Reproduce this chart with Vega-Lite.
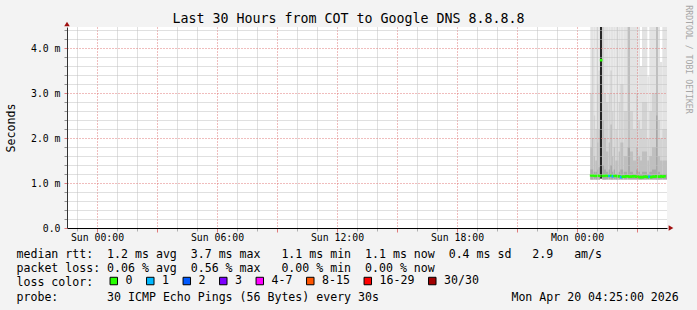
{
  "$schema": "https://vega.github.io/schema/vega-lite/v6.json",
  "width": 600,
  "height": 201,
  "autosize": {"type": "none"},
  "padding": {"left": 67, "top": 27, "right": 30, "bottom": 82},
  "background": "#f3f3f3",
  "config": {
    "font": "DejaVu Sans Mono",
    "view": {"fill": "white", "stroke": null}
  },
  "title": {
    "text": "Last 30 Hours from COT to Google DNS 8.8.8.8",
    "font": "DejaVu Sans Mono",
    "fontSize": 13.3,
    "fontWeight": "normal",
    "color": "#000000",
    "anchor": "middle",
    "frame": "group",
    "dx": -18.5,
    "offset": -21
  },
  "datasets": {
    "smoke": [
      {"t": "2026-04-20T00:40:00Z", "t2": "2026-04-20T00:45:00Z", "min": 1.08, "max": 6, "q1": 3.0, "q2": 1.8, "q3": 1.3},
      {"t": "2026-04-20T00:45:00Z", "t2": "2026-04-20T00:50:00Z", "min": 1.08, "max": 6, "q1": 4.0, "q2": 2.0, "q3": 1.3},
      {"t": "2026-04-20T00:50:00Z", "t2": "2026-04-20T00:55:00Z", "min": 1.08, "max": 6, "q1": 2.5, "q2": 1.6, "q3": 1.25},
      {"t": "2026-04-20T00:55:00Z", "t2": "2026-04-20T01:00:00Z", "min": 1.08, "max": 5.0, "q1": 2.2, "q2": 1.5, "q3": 1.25},
      {"t": "2026-04-20T01:00:00Z", "t2": "2026-04-20T01:05:00Z", "min": 1.08, "max": 6, "q1": 3.2, "q2": 1.9, "q3": 1.3},
      {"t": "2026-04-20T01:05:00Z", "t2": "2026-04-20T01:09:00Z", "min": 1.08, "max": 6, "q1": 3.5, "q2": 2.2, "q3": 1.35},
      {"t": "2026-04-20T01:09:00Z", "t2": "2026-04-20T01:16:00Z", "min": 1.1, "max": 6, "q1": 6, "q2": 6, "q3": 6, "q4": 6},
      {"t": "2026-04-20T01:16:00Z", "t2": "2026-04-20T01:21:00Z", "min": 1.08, "max": 6, "q1": 6, "q2": 2.4, "q3": 1.4},
      {"t": "2026-04-20T01:21:00Z", "t2": "2026-04-20T01:27:00Z", "min": 1.08, "max": 6, "q1": 3.0, "q2": 2.0, "q3": 1.3},
      {"t": "2026-04-20T01:27:00Z", "t2": "2026-04-20T01:35:00Z", "min": 1.08, "max": 6, "q1": 2.8, "q2": 1.7, "q3": 1.25},
      {"t": "2026-04-20T01:35:00Z", "t2": "2026-04-20T01:40:00Z", "min": 1.08, "max": 6, "q1": 3.0, "q2": 1.9, "q3": 1.3},
      {"t": "2026-04-20T01:40:00Z", "t2": "2026-04-20T01:45:00Z", "min": 1.08, "max": 6, "q1": 3.5, "q2": 2.3, "q3": 1.4},
      {"t": "2026-04-20T01:45:00Z", "t2": "2026-04-20T01:50:00Z", "min": 1.08, "max": 6, "q1": 2.6, "q2": 1.6, "q3": 1.25},
      {"t": "2026-04-20T01:50:00Z", "t2": "2026-04-20T01:55:00Z", "min": 1.08, "max": 6, "q1": 3.0, "q2": 1.8, "q3": 1.3},
      {"t": "2026-04-20T01:55:00Z", "t2": "2026-04-20T02:00:00Z", "min": 1.08, "max": 5.5, "q1": 2.2, "q2": 1.5, "q3": 1.2},
      {"t": "2026-04-20T02:00:00Z", "t2": "2026-04-20T02:05:00Z", "min": 1.08, "max": 4.8, "q1": 2.0, "q2": 1.5, "q3": 1.2},
      {"t": "2026-04-20T02:05:00Z", "t2": "2026-04-20T02:10:00Z", "min": 1.08, "max": 6, "q1": 2.8, "q2": 1.7, "q3": 1.25},
      {"t": "2026-04-20T02:10:00Z", "t2": "2026-04-20T02:20:00Z", "min": 1.08, "max": 6, "q1": 3.2, "q2": 1.9, "q3": 1.3},
      {"t": "2026-04-20T02:20:00Z", "t2": "2026-04-20T02:32:00Z", "min": 1.08, "max": 6, "q1": 2.6, "q2": 1.6, "q3": 1.25},
      {"t": "2026-04-20T02:32:00Z", "t2": "2026-04-20T02:39:00Z", "min": 1.08, "max": 6, "q1": 6, "q2": 6, "q3": 1.8},
      {"t": "2026-04-20T02:39:00Z", "t2": "2026-04-20T02:48:00Z", "min": 1.08, "max": 6, "q1": 2.6, "q2": 1.7, "q3": 1.25},
      {"t": "2026-04-20T02:48:00Z", "t2": "2026-04-20T02:57:00Z", "min": 1.08, "max": 6, "q1": 2.2, "q2": 1.5, "q3": 1.2},
      {"t": "2026-04-20T02:57:00Z", "t2": "2026-04-20T03:04:00Z", "min": 1.08, "max": 6, "q1": 3.0, "q2": 1.8, "q3": 1.3},
      {"t": "2026-04-20T03:04:00Z", "t2": "2026-04-20T03:09:00Z", "min": 1.08, "max": 6, "q1": 2.4, "q2": 1.6, "q3": 1.25},
      {"t": "2026-04-20T03:09:00Z", "t2": "2026-04-20T03:15:00Z", "min": 1.08, "max": 3.6, "q1": 2.2, "q2": 1.5, "q3": 1.2},
      {"t": "2026-04-20T03:15:00Z", "t2": "2026-04-20T03:31:00Z", "min": 1.08, "max": 6, "q1": 2.8, "q2": 1.7, "q3": 1.25},
      {"t": "2026-04-20T03:31:00Z", "t2": "2026-04-20T03:37:00Z", "min": 1.08, "max": 3.37, "q1": 2.0, "q2": 1.5, "q3": 1.2},
      {"t": "2026-04-20T03:37:00Z", "t2": "2026-04-20T03:45:00Z", "min": 1.08, "max": 6, "q1": 2.6, "q2": 1.6, "q3": 1.25},
      {"t": "2026-04-20T03:45:00Z", "t2": "2026-04-20T03:57:00Z", "min": 1.08, "max": 6, "q1": 3.0, "q2": 1.8, "q3": 1.3},
      {"t": "2026-04-20T03:57:00Z", "t2": "2026-04-20T04:03:00Z", "min": 1.08, "max": 6, "q1": 6, "q2": 6, "q3": 2.5},
      {"t": "2026-04-20T04:03:00Z", "t2": "2026-04-20T04:09:00Z", "min": 1.08, "max": 6, "q1": 2.4, "q2": 1.6, "q3": 1.25},
      {"t": "2026-04-20T04:09:00Z", "t2": "2026-04-20T04:16:00Z", "min": 1.08, "max": 3.69, "q1": 2.0, "q2": 1.5, "q3": 1.2},
      {"t": "2026-04-20T04:16:00Z", "t2": "2026-04-20T04:30:00Z", "min": 1.08, "max": 6, "q1": 2.2, "q2": 1.5, "q3": 1.2}
    ],
    "median": [
      {"t": "2026-04-20T00:42:30Z", "med": 1.17, "loss": "0"},
      {"t": "2026-04-20T00:47:30Z", "med": 1.17, "loss": "0"},
      {"t": "2026-04-20T00:52:30Z", "med": 1.16, "loss": "0"},
      {"t": "2026-04-20T00:57:30Z", "med": 1.16, "loss": "0"},
      {"t": "2026-04-20T01:02:30Z", "med": 1.17, "loss": "0"},
      {"t": "2026-04-20T01:07:30Z", "med": 1.16, "loss": "0"},
      {"t": "2026-04-20T01:12:30Z", "med": 3.73, "loss": "0"},
      {"t": "2026-04-20T01:17:30Z", "med": 1.16, "loss": "0"},
      {"t": "2026-04-20T01:22:30Z", "med": 1.16, "loss": "0"},
      {"t": "2026-04-20T01:27:30Z", "med": 1.17, "loss": "0"},
      {"t": "2026-04-20T01:32:30Z", "med": 1.16, "loss": "0"},
      {"t": "2026-04-20T01:37:30Z", "med": 1.16, "loss": "1"},
      {"t": "2026-04-20T01:42:30Z", "med": 1.17, "loss": "0"},
      {"t": "2026-04-20T01:47:30Z", "med": 1.15, "loss": "1"},
      {"t": "2026-04-20T01:52:30Z", "med": 1.16, "loss": "0"},
      {"t": "2026-04-20T01:57:30Z", "med": 1.16, "loss": "0"},
      {"t": "2026-04-20T02:02:30Z", "med": 1.15, "loss": "0"},
      {"t": "2026-04-20T02:07:30Z", "med": 1.15, "loss": "0"},
      {"t": "2026-04-20T02:12:30Z", "med": 1.13, "loss": "1"},
      {"t": "2026-04-20T02:17:30Z", "med": 1.14, "loss": "0"},
      {"t": "2026-04-20T02:22:30Z", "med": 1.14, "loss": "0"},
      {"t": "2026-04-20T02:27:30Z", "med": 1.15, "loss": "0"},
      {"t": "2026-04-20T02:32:30Z", "med": 1.15, "loss": "0"},
      {"t": "2026-04-20T02:37:30Z", "med": 1.14, "loss": "0"},
      {"t": "2026-04-20T02:42:30Z", "med": 1.14, "loss": "0"},
      {"t": "2026-04-20T02:47:30Z", "med": 1.15, "loss": "0"},
      {"t": "2026-04-20T02:52:30Z", "med": 1.15, "loss": "0"},
      {"t": "2026-04-20T02:57:30Z", "med": 1.14, "loss": "0"},
      {"t": "2026-04-20T03:02:30Z", "med": 1.14, "loss": "0"},
      {"t": "2026-04-20T03:07:30Z", "med": 1.13, "loss": "0"},
      {"t": "2026-04-20T03:12:30Z", "med": 1.13, "loss": "0"},
      {"t": "2026-04-20T03:17:30Z", "med": 1.13, "loss": "0"},
      {"t": "2026-04-20T03:22:30Z", "med": 1.14, "loss": "0"},
      {"t": "2026-04-20T03:27:30Z", "med": 1.14, "loss": "0"},
      {"t": "2026-04-20T03:32:30Z", "med": 1.13, "loss": "0"},
      {"t": "2026-04-20T03:37:30Z", "med": 1.14, "loss": "1"},
      {"t": "2026-04-20T03:42:30Z", "med": 1.13, "loss": "0"},
      {"t": "2026-04-20T03:47:30Z", "med": 1.14, "loss": "0"},
      {"t": "2026-04-20T03:52:30Z", "med": 1.14, "loss": "0"},
      {"t": "2026-04-20T03:57:30Z", "med": 1.15, "loss": "0"},
      {"t": "2026-04-20T04:02:30Z", "med": 1.14, "loss": "0"},
      {"t": "2026-04-20T04:07:30Z", "med": 1.14, "loss": "0"},
      {"t": "2026-04-20T04:12:30Z", "med": 1.15, "loss": "0"},
      {"t": "2026-04-20T04:17:30Z", "med": 1.14, "loss": "0"},
      {"t": "2026-04-20T04:22:30Z", "med": 1.15, "loss": "0"}
    ]
  },
  "layer": [
    {
      "data": {"name": "smoke"},
      "transform": [
        {"fold": ["max", "q1", "q2", "q3", "q4"], "as": ["band", "value"]},
        {"filter": "isValid(datum.value)"}
      ],
      "mark": {"type": "bar", "clip": true},
      "encoding": {
        "x": {
          "field": "t", "type": "temporal",
          "scale": {"type": "utc", "domain": [1776551400000, 1776659400000]},
          "axis": {
            "orient": "bottom",
            "values": [1776553200000, 1776560400000, 1776564000000, 1776571200000, 1776574800000, 1776582000000, 1776585600000, 1776592800000, 1776596400000, 1776603600000, 1776607200000, 1776614400000, 1776618000000, 1776625200000, 1776628800000, 1776636000000, 1776639600000, 1776646800000, 1776650400000, 1776657600000],
            "labels": false, "domain": false, "title": null,
            "tickSize": 3, "tickColor": "#b0b0b0",
            "grid": true, "gridColor": "#c0c0c0", "gridDash": [1, 1],
            "zindex": 1
          }
        },
        "x2": {"field": "t2"},
        "y": {
          "field": "min", "type": "quantitative",
          "scale": {"domain": [0, 4.466667], "nice": false, "zero": false},
          "axis": {
            "orient": "left",
            "values": [0.2, 0.4, 0.6, 0.8, 1.2, 1.4, 1.6, 1.8, 2.2, 2.4, 2.6, 2.8, 3.2, 3.4, 3.6, 3.8, 4.2, 4.4],
            "labels": false, "domain": false, "title": null,
            "tickSize": 3, "tickColor": "#909090",
            "grid": true, "gridColor": "#c0c0c0", "gridDash": [1, 1],
            "zindex": 1
          }
        },
        "y2": {"field": "value"},
        "color": {
          "field": "band", "type": "nominal",
          "scale": {"domain": ["max", "q1", "q2", "q3", "q4"], "range": ["#e3e3e3", "#d3d3d3", "#bfbfbf", "#a8a8a8", "#262626"]},
          "legend": null
        }
      }
    },
    {
      "data": {"name": "median"},
      "mark": {"type": "point", "shape": "square", "filled": true, "size": 7, "opacity": 1},
      "encoding": {
        "x": {
          "field": "t", "type": "temporal",
          "scale": {"type": "utc", "domain": [1776551400000, 1776659400000]},
          "axis": {
            "orient": "bottom",
            "values": [1776556800000, 1776567600000, 1776578400000, 1776589200000, 1776600000000, 1776610800000, 1776621600000, 1776632400000, 1776643200000, 1776654000000],
            "labelExpr": "utchours(datum.value) % 6 == 0 ? utcFormat(datum.value, '%a %H:%M') : ''",
            "labelFont": "DejaVu Sans Mono", "labelFontSize": 9.8, "labelColor": "#000000",
            "labelPadding": 5, "labelOverlap": false, "labelFlush": false, "labelBaseline": "middle",
            "tickSize": 4, "tickColor": "#e07a7a",
            "grid": true, "gridColor": "#e07a7a", "gridDash": [1, 2],
            "domainColor": "#000000",
            "title": [
              "median rtt:\u00a0\u00a01.2 ms avg\u00a0\u00a03.7 ms max\u00a0\u00a0\u00a01.1 ms min\u00a0\u00a01.1 ms now\u00a0\u00a00.4 ms sd\u00a0\u00a0\u00a02.9\u00a0\u00a0\u00a0am/s",
              "packet loss:\u00a00.06 % avg\u00a0\u00a00.56 % max\u00a0\u00a0\u00a00.00 % min\u00a0\u00a00.00 % now",
              "loss color:",
              "probe:\u00a0\u00a0\u00a0\u00a0\u00a0\u00a0\u00a030 ICMP Echo Pings (56 Bytes) every 30s\u00a0\u00a0\u00a0\u00a0\u00a0\u00a0\u00a0\u00a0\u00a0\u00a0\u00a0\u00a0\u00a0\u00a0\u00a0\u00a0\u00a0\u00a0\u00a0Mon Apr 20 04:25:00 2026"
            ],
            "titleFont": "DejaVu Sans Mono", "titleFontSize": 11.58, "titleFontWeight": "normal", "titleColor": "#000000",
            "titleX": -51, "titleY": 29.5, "titleAlign": "left", "titleBaseline": "alphabetic", "titleAngle": 0,
            "titleLineHeight": 14.2, "titleLimit": 1000,
            "zindex": 1
          }
        },
        "y": {
          "field": "med", "type": "quantitative",
          "scale": {"domain": [0, 4.466667], "nice": false, "zero": false},
          "axis": {
            "orient": "left",
            "values": [0, 1, 2, 3, 4],
            "labelExpr": "datum.value == 0 ? '0.0' : format(datum.value, '.1f') + ' m'",
            "labelFont": "DejaVu Sans Mono", "labelFontSize": 9.8, "labelColor": "#000000", "labelPadding": 4, "labelOverlap": false,
            "tickSize": 3, "tickColor": "#e07a7a",
            "grid": true, "gridColor": "#e07a7a", "gridDash": [1, 2],
            "domainColor": "#333333",
            "title": "Seconds",
            "titleFont": "DejaVu Sans Mono", "titleFontSize": 11.6, "titleFontWeight": "normal", "titleColor": "#000000",
            "titleX": -56, "titleY": 100.5, "titleAngle": -90, "titleAlign": "center", "titleBaseline": "middle",
            "zindex": 1
          }
        },
        "color": {
          "field": "loss", "type": "nominal",
          "scale": {
            "domain": ["0", "1", "2", "3", "4-7", "8-15", "16-29", "30/30"],
            "range": ["#26ff00", "#00b8ff", "#0059ff", "#7e00ff", "#ff00ff", "#ff5500", "#ff0000", "#a10000"]
          },
          "legend": {
            "orient": "none", "legendX": 41, "legendY": 248, "direction": "horizontal", "title": null,
            "symbolType": "square", "symbolSize": 56, "symbolStrokeColor": "#000000", "symbolStrokeWidth": 1, "symbolOpacity": 1,
            "labelFont": "DejaVu Sans Mono", "labelFontSize": 11.58, "labelColor": "#000000", "labelOffset": 6,
            "columnPadding": 11.5, "padding": 0
          }
        }
      }
    },
    {
      "data": {"values": [{"k": "top"}]},
      "mark": {"type": "point", "shape": "triangle-up", "filled": true, "size": 30, "color": "#a01010", "opacity": 1, "yOffset": -3},
      "encoding": {
        "x": {"datum": 1776551400000, "type": "temporal", "axis": null,
              "scale": {"type": "utc", "domain": [1776551400000, 1776659400000]}},
        "y": {"datum": 4.466667, "type": "quantitative", "scale": {"domain": [0, 4.466667], "nice": false, "zero": false},
              "axis": {
                "orient": "right", "labels": false, "ticks": false, "domain": false, "grid": false,
                "title": "RRDTOOL / TOBI OETIKER",
                "titleFont": "DejaVu Sans Mono", "titleFontSize": 8.2, "titleFontWeight": "normal", "titleColor": "#a6a6a6",
                "titleAngle": 90, "titleX": 20, "titleY": 32, "titleAlign": "center", "titleBaseline": "middle"
              }}
      }
    },
    {
      "data": {"values": [{"k": "right"}]},
      "mark": {"type": "point", "shape": "triangle-right", "filled": true, "size": 30, "color": "#a01010", "opacity": 1, "xOffset": 4},
      "encoding": {
        "x": {"datum": 1776659400000, "type": "temporal", "axis": null,
              "scale": {"type": "utc", "domain": [1776551400000, 1776659400000]}},
        "y": {"datum": 0, "type": "quantitative", "axis": null, "scale": {"domain": [0, 4.466667], "nice": false, "zero": false}}
      }
    }
  ],
  "resolve": {
    "scale": {"color": "independent"},
    "axis": {"x": "independent", "y": "independent"}
  }
}
